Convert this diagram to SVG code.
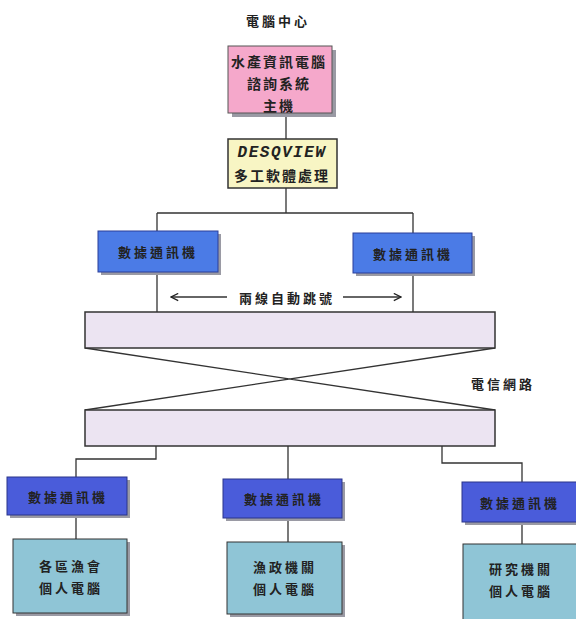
<svg xmlns="http://www.w3.org/2000/svg" width="576" height="619" viewBox="0 0 576 619">
<defs>
<style>
.t{font-family:"Noto Sans CJK TC","Noto Sans CJK SC",sans-serif;font-weight:700;fill:#222;text-anchor:middle;dominant-baseline:central}
.s13{font-size:13px;letter-spacing:3px}
.s14{font-size:14px;letter-spacing:2px}
.sh{fill:#9a9aa4}
.line{stroke:#333;stroke-width:1.3;fill:none}
.pink{fill:#f5a8cb;stroke:#555;stroke-width:1}
.yel{fill:#f8f5c4;stroke:#333;stroke-width:1.5}
.blue1{fill:#4b7be6;stroke:#2b3f9a;stroke-width:1}
.blue2{fill:#4a5cda;stroke:#2a348a;stroke-width:1}
.lb{fill:#8fc5d6;stroke:#333;stroke-width:1}
.lav{fill:#ece4f2;stroke:#333;stroke-width:1.5}
</style>
<marker id="ah" viewBox="0 0 10 10" refX="9" refY="5" markerWidth="9" markerHeight="9" orient="auto-start-reverse" markerUnits="userSpaceOnUse">
<path d="M1,1 L9,5 L1,9" fill="none" stroke="#222" stroke-width="1.4"/>
</marker>
</defs>
<rect width="576" height="619" fill="#fff"/>

<g id="connectors">
<path class="line" d="M286,113 V139 M286,188 V213 M157,213 H413 M157,213 V231 M413,213 V233 M157,272 V312 M413,273 V312"/>
<path class="line" d="M85,348 L495,410 M495,348 L85,410"/>
<path class="line" d="M156,446 V459 H76 V477 M288,446 V479 M442,446 V463 H522 V482"/>
<path class="line" d="M76,515 V539 M288,518 V542 M522,522 V544"/>
<line class="line" x1="227" y1="297" x2="171" y2="297" marker-end="url(#ah)"/>
<line class="line" x1="343" y1="297" x2="401" y2="297" marker-end="url(#ah)"/>
</g>

<g id="title"><text class="t s13" x="278" y="20">電腦中心</text></g>

<g id="host">
<rect class="sh" x="232" y="50" width="104" height="67"/>
<rect class="pink" x="228" y="46" width="104" height="67"/>
<text class="t s14" x="279" y="61">水產資訊電腦</text>
<text class="t s14" x="279" y="83">諮詢系統</text>
<text class="t s14" x="279" y="105">主機</text>
</g>

<g id="desqview">
<rect class="yel" x="228" y="139" width="109" height="49"/>
<text x="282" y="153" style="font-family:'Liberation Mono',monospace;font-weight:700;font-style:italic;font-size:16px;letter-spacing:1.5px;fill:#222;text-anchor:middle;dominant-baseline:central">DESQVIEW</text>
<text class="t s14" x="282" y="175">多工軟體處理</text>
</g>

<g id="modem-l">
<rect class="sh" x="101" y="234" width="120" height="41"/>
<rect class="blue1" x="98" y="231" width="120" height="41"/>
<text class="t s13" x="158" y="251">數據通訊機</text>
</g>
<g id="modem-r">
<rect class="sh" x="356" y="236" width="119" height="40"/>
<rect class="blue1" x="353" y="233" width="119" height="40"/>
<text class="t s13" x="413" y="253">數據通訊機</text>
</g>

<g id="label-auto"><text class="t s13" x="287" y="297">兩線自動跳號</text></g>

<g id="net-top"><rect class="lav" x="85" y="312" width="410" height="36"/></g>
<g id="net-bottom"><rect class="lav" x="85" y="410" width="410" height="36"/></g>
<g id="label-net"><text class="t s13" x="503" y="383">電信網路</text></g>

<g id="modem-b1">
<rect class="sh" x="10" y="480" width="120" height="38"/>
<rect class="blue2" x="7" y="477" width="120" height="38"/>
<text class="t s13" x="68" y="496">數據通訊機</text>
</g>
<g id="modem-b2">
<rect class="sh" x="226" y="482" width="119" height="39"/>
<rect class="blue2" x="223" y="479" width="119" height="39"/>
<text class="t s13" x="284" y="498">數據通訊機</text>
</g>
<g id="modem-b3">
<rect class="sh" x="465" y="485" width="116" height="40"/>
<rect class="blue2" x="462" y="482" width="116" height="40"/>
<text class="t s13" x="520" y="502">數據通訊機</text>
</g>

<g id="pc1">
<rect class="sh" x="16" y="542" width="114" height="74"/>
<rect class="lb" x="13" y="539" width="114" height="74"/>
<text class="t s13" x="71" y="565">各區漁會</text>
<text class="t s13" x="71" y="587">個人電腦</text>
</g>
<g id="pc2">
<rect class="sh" x="230" y="545" width="115" height="72"/>
<rect class="lb" x="227" y="542" width="115" height="72"/>
<text class="t s13" x="285" y="566">漁政機關</text>
<text class="t s13" x="285" y="588">個人電腦</text>
</g>
<g id="pc3">
<rect class="sh" x="466" y="547" width="115" height="76"/>
<rect class="lb" x="463" y="544" width="115" height="76"/>
<text class="t s13" x="521" y="568">研究機關</text>
<text class="t s13" x="521" y="590">個人電腦</text>
</g>
</svg>
